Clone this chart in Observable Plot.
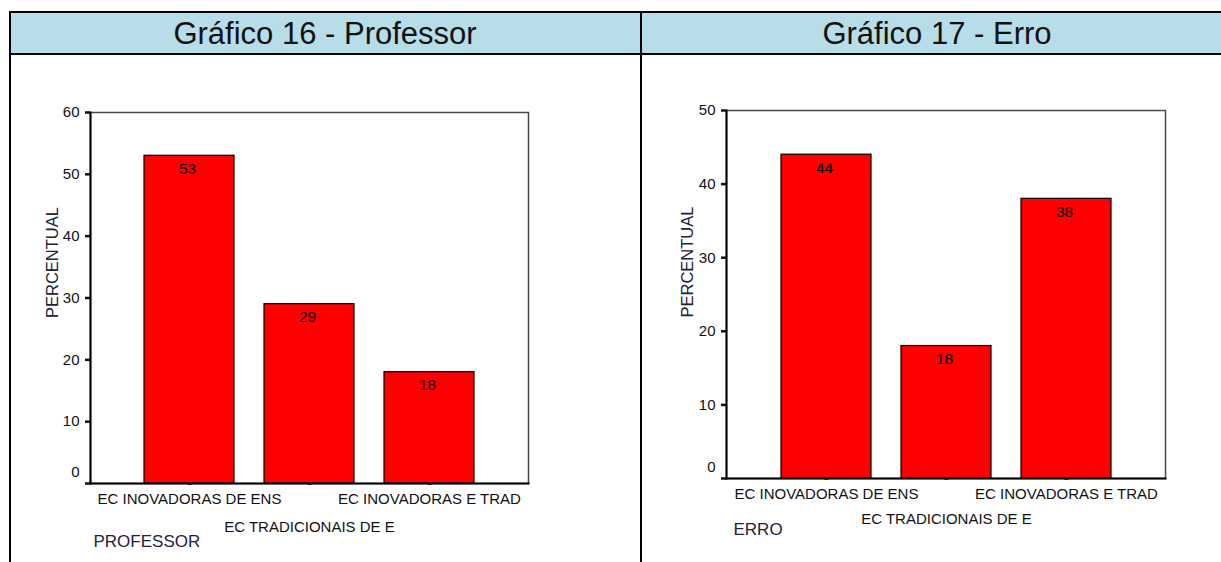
<!DOCTYPE html>
<html lang="pt">
<head>
<meta charset="utf-8">
<script src="https://cdn.jsdelivr.net/npm/d3@7"></script>
<script src="https://cdn.jsdelivr.net/npm/@observablehq/plot@0.6"></script>
<style>
  html, body { margin: 0; padding: 0; background: #fff; }
  body { width: 1221px; height: 562px; position: relative; overflow: hidden;
         font-family: "Liberation Sans", Arial, sans-serif; }
  .line { position: absolute; background: #000; }
  .head { position: absolute; top: 13px; height: 40px; background: #b7dde8; }
  .head-text { position: absolute; top: 13px; height: 40px; line-height: 42px;
               font-size: 31px; color: #111; white-space: nowrap; transform: translateX(-50%); }
  .chart { position: absolute; top: 56px; }
</style>
</head>
<body>
<div class="head" style="left:11px; width:1210px;"></div>
<div class="head-text" id="t1" style="left:325px;"></div>
<div class="head-text" id="t2" style="left:937px;"></div>
<div class="line" style="left:9px; top:11px; width:1212px; height:2px;"></div>
<div class="line" style="left:9px; top:53px; width:1212px; height:2px;"></div>
<div class="line" style="left:9px; top:11px; width:2px; height:551px;"></div>
<div class="line" style="left:640px; top:11px; width:2px; height:551px;"></div>
<div class="chart" id="c1" style="left:11px;"></div>
<div class="chart" id="c2" style="left:642px;"></div>

<script>
// Categorias de concepções (mesmas nos dois gráficos)
const categories = ["EC INOVADORAS DE ENS", "EC TRADICIONAIS DE E", "EC INOVADORAS E TRAD"];

// Gráfico 16 - Professor (percentuais)
const professorTitle = "Gráfico 16 - Professor";
const professorValues = [53, 29, 18];
const professorTicks = [0, 10, 20, 30, 40, 50, 60];
const professorAxisTitle = "PROFESSOR";

// Gráfico 17 - Erro (percentuais)
const erroTitle = "Gráfico 17 - Erro";
const erroValues = [44, 18, 38];
const erroTicks = [0, 10, 20, 30, 40, 50];
const erroAxisTitle = "ERRO";

const yTitle = "PERCENTUAL";

function barChart({values, ticks, axisTitle, width, height, margin, row2Padding, titleDy, titleDx, yTitleDx, yTitleDy}) {
  const data = categories.map((c, i) => ({categoria: c, valor: values[i]}));
  const font = "'Liberation Sans', Arial, sans-serif";
  return Plot.plot({
    width, height,
    marginLeft: margin[3], marginRight: margin[1], marginTop: margin[0], marginBottom: margin[2],
    style: {fontFamily: font, fontSize: "15px", color: "#111", background: "transparent", overflow: "visible"},
    x: {domain: categories, paddingInner: 0.25, paddingOuter: 0.45, label: null, axis: null},
    y: {domain: [0, ticks[ticks.length - 1]], label: null, axis: null},
    marks: [
      Plot.frame({stroke: "#4a4a4a", strokeWidth: 1.5}),
      Plot.barY(data, {x: "categoria", y: "valor", fill: "#ff0000", stroke: "#000", strokeWidth: 1.2}),
      Plot.text(data, {x: "categoria", y: "valor", text: d => String(d.valor), dy: 13, dx: -2,
                       lineAnchor: "middle", fill: "#000", fontSize: 15.5}),
      Plot.frame({anchor: "left", stroke: "#000", strokeWidth: 2}),
      Plot.frame({anchor: "bottom", stroke: "#000", strokeWidth: 2}),
      // eixo Y: ticks grossos; o rótulo do zero fica acima do seu tick
      Plot.axisY({ticks, tickSize: 5, tickPadding: 6, strokeWidth: 2.5, color: "#111",
                  fontSize: 15, label: null, tickFormat: d => (d === 0 ? "" : String(d))}),
      Plot.axisY({ticks: [0], tickSize: 0, tickPadding: 11, dy: -11, color: "#111",
                  fontSize: 15, label: null}),
      // eixo X: rótulos em duas linhas alternadas
      Plot.axisX({ticks: [categories[0], categories[2]], tickSize: 2, tickPadding: 7.5, strokeWidth: 3.5,
                  color: "#111", fontSize: 15, label: null}),
      Plot.axisX({ticks: [categories[1]], tickSize: 2, tickPadding: row2Padding, strokeWidth: 3.5,
                  color: "#111", fontSize: 15, label: null}),
      Plot.text([yTitle], {frameAnchor: "left", rotate: -90, dx: yTitleDx, dy: yTitleDy,
                           fontSize: 16.5, fill: "#22223a"}),
      Plot.text([axisTitle], {frameAnchor: "bottom-left", textAnchor: "start", lineAnchor: "middle",
                              dx: titleDx, dy: titleDy, fontSize: 17, fill: "#22223a"})
    ]
  });
}

document.getElementById("t1").textContent = professorTitle;
document.getElementById("t2").textContent = erroTitle;

document.getElementById("c1").append(barChart({
  values: professorValues, ticks: professorTicks, axisTitle: professorAxisTitle,
  width: 629, height: 506, margin: [56, 112, 79, 79],
  row2Padding: 35.5, titleDy: 58, titleDx: 3, yTitleDx: -38, yTitleDy: 20
}));

document.getElementById("c2").append(barChart({
  values: erroValues, ticks: erroTicks, axisTitle: erroAxisTitle,
  width: 579, height: 506, margin: [54, 56, 84, 84],
  row2Padding: 32.5, titleDy: 51, titleDx: 7, yTitleDx: -39, yTitleDy: 23
}));
</script>
</body>
</html>
